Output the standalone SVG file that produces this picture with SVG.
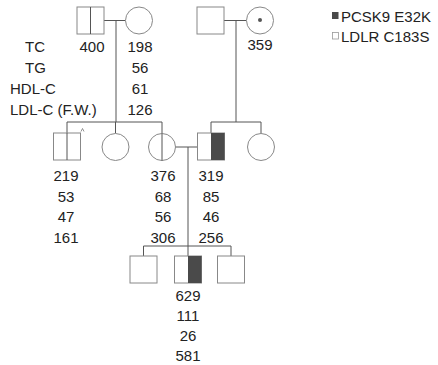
<svg xmlns="http://www.w3.org/2000/svg" width="438" height="365" viewBox="0 0 438 365">
<style>
.t{font-family:"Liberation Sans",Arial,sans-serif;font-size:15px;fill:#222}
.m{text-anchor:middle}
.n{fill:#fff;stroke:#888;stroke-width:1}
.f{fill:#4a4a4a;stroke:none}
.c{stroke:#555;stroke-width:1;fill:none}
.in{stroke:#555;stroke-width:1}
</style>
<rect width="438" height="365" fill="#fff"/>
<g id="connectors" class="c">
<path d="M104 20.5H125.5M116 20.5V122M67 122H162M67 122V133M115.5 122V133.5M162 122V133.5"/>
<path d="M224 20.5H246.5M236 20.5V122M211 122H261M211 122V133M261 122V133.5"/>
<path d="M175.5 147H197.5M188 147V256M143.5 246H231M143.5 246V256M231 246V256"/>
</g>
<g id="I1"><rect class="n" x="77" y="7" width="27" height="27"/><line class="in" x1="90.5" y1="7" x2="90.5" y2="34"/></g>
<g id="I2"><circle class="n" cx="139" cy="20.5" r="13.5"/></g>
<g id="I3"><rect class="n" x="197" y="7" width="27" height="27"/></g>
<g id="I4"><circle class="n" cx="260" cy="20.5" r="13.5"/><circle cx="260" cy="20" r="2" fill="#555"/></g>
<g id="II1"><rect class="n" x="53.5" y="133" width="27" height="27"/><line class="in" x1="67" y1="133" x2="67" y2="160"/><path d="M81 131.5l1.5-3 1.5 3" stroke="#777" stroke-width="0.8" fill="none"/></g>
<g id="II2"><circle class="n" cx="115.5" cy="147" r="13.5"/></g>
<g id="II3"><circle class="n" cx="162" cy="147" r="13.5"/><line class="in" x1="162" y1="133.5" x2="162" y2="160.5"/></g>
<g id="II4"><rect class="n" x="197.5" y="133" width="27" height="27"/><rect class="f" x="211" y="133" width="13.5" height="27"/></g>
<g id="II5"><circle class="n" cx="261" cy="147" r="13.5"/></g>
<g id="III1"><rect class="n" x="130" y="256" width="27" height="27"/></g>
<g id="III2"><rect class="n" x="174.5" y="256" width="27" height="27"/><rect class="f" x="188" y="256" width="13.5" height="27"/></g>
<g id="III3"><rect class="n" x="217.5" y="256" width="27" height="27"/></g>
<g id="legend">
<rect class="f" x="332" y="12" width="6.5" height="7"/>
<text class="t" x="341" y="22">PCSK9 E32K</text>
<rect x="332.5" y="32.5" width="6" height="6.5" fill="#fff" stroke="#999" stroke-width="0.8"/>
<text class="t" x="341" y="42">LDLR C183S</text>
</g>
<g id="labels">
<text class="t" x="25" y="52">TC</text>
<text class="t" x="25" y="73">TG</text>
<text class="t" x="10" y="94">HDL-C</text>
<text class="t" x="10" y="115">LDL-C (F.W.)</text>
<text class="t m" x="92" y="52">400</text>
<text class="t m" x="140" y="52">198</text>
<text class="t m" x="140" y="73">56</text>
<text class="t m" x="140" y="94">61</text>
<text class="t m" x="140" y="115">126</text>
<text class="t m" x="260" y="50">359</text>
<text class="t m" x="66" y="181">219</text>
<text class="t m" x="66" y="202">53</text>
<text class="t m" x="66" y="222">47</text>
<text class="t m" x="66" y="243">161</text>
<text class="t m" x="163" y="181">376</text>
<text class="t m" x="163" y="202">68</text>
<text class="t m" x="163" y="222">56</text>
<text class="t m" x="163" y="243">306</text>
<text class="t m" x="211" y="181">319</text>
<text class="t m" x="211" y="202">85</text>
<text class="t m" x="211" y="222">46</text>
<text class="t m" x="211" y="243">256</text>
<text class="t m" x="188" y="301">629</text>
<text class="t m" x="188" y="321">111</text>
<text class="t m" x="188" y="341">26</text>
<text class="t m" x="188" y="361">581</text>
</g>
</svg>
